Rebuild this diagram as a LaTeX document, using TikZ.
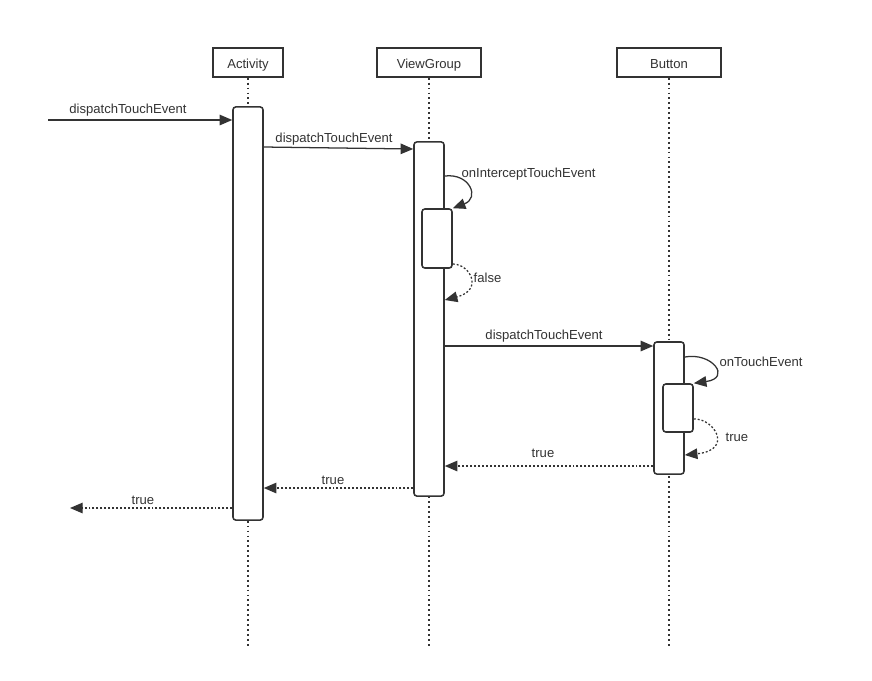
\documentclass[tikz,border=0pt]{standalone}
\usepackage{fontspec}
\setmainfont{Liberation Sans}
\usepackage{tikz}
\usetikzlibrary{arrows.meta, positioning, calc}
\usepackage{xcolor}
\definecolor{ink}{RGB}{51,51,51}

\begin{document}
\begin{tikzpicture}[x=0.025cm, y=-0.025cm, every node/.style={font=\fontsize{9.3}{11}\selectfont, text=ink},
  head/.style={draw=ink, line width=1.1pt, fill=white, minimum width=1.75cm, minimum height=0.725cm, inner sep=0pt, text height=1.9ex, text depth=0.25ex},
  lifeline/.style={draw=ink, line width=1.1pt, dash pattern=on 1.3pt off 2.2pt},
  actbox/.style={draw=ink, line width=1.1pt, fill=white, rounded corners=2pt, minimum width=0.75cm, inner sep=0pt},
  msg/.style={draw=ink, line width=0.9pt, -{Triangle[length=9pt, width=7.5pt]}},
  reply/.style={draw=ink, line width=0.9pt, dash pattern=on 1.4pt off 1.4pt, -{Triangle[length=9pt, width=7.5pt]}},
  lbl/.style={inner sep=1pt}]
  \useasboundingbox (0,0) rectangle (872,680);

  % participants
  \node[head] (activity) at (248,62.5) {Activity};
  \node[head, minimum width=2.6cm] (viewgroup) at (429,62.5) {ViewGroup};
  \node[head, minimum width=2.6cm] (button) at (669,62.5) {Button};

  % lifelines
  \coordinate (endA) at (248,648);
  \coordinate (endV) at (429,648);
  \coordinate (endB) at (669,648);
  \draw[lifeline] (activity.south) -- (endA);
  \draw[lifeline] (viewgroup.south) -- (endV);
  \draw[lifeline] (button.south) -- (endB);

  % activations
  \node[actbox, minimum height=10.325cm] (actA) at (248,313.5) {};
  \node[actbox, minimum height=8.85cm] (actV) at (429,319) {};
  \node[actbox, minimum height=1.475cm] (actVin) at (437,238.5) {};
  \node[actbox, minimum height=3.3cm] (actB) at (669,408) {};
  \node[actbox, minimum height=1.2cm] (actBin) at (678,408) {};

  % message rows
  \coordinate (start) at (48,120);
  \coordinate (m2) at (0,147);
  \coordinate (m2b) at (0,149);
  \coordinate (m3) at (0,346);
  \coordinate (r1) at (0,466);
  \coordinate (r2) at (0,488);
  \coordinate (r3) at (0,508);
  \coordinate (out) at (70,508);

  \draw[msg] (start) -- (actA.west |- start);
  \node[lbl] (l1) at (128,110) {dispatchTouchEvent};

  \draw[msg] (actA.east |- m2) -- (actV.west |- m2b);
  \node[lbl] (l2) at (334,139) {dispatchTouchEvent};

  \draw[msg] (actV.east |- 0,176) .. controls (470,173) and (480,198) .. (actVin.north east);
  \node[lbl, anchor=west] (l3) at (460,174) {onInterceptTouchEvent};

  \draw[reply] (actVin.east |- 0,264) .. controls (470,264) and (484,290) .. (actV.east |- 0,300);
  \node[lbl, anchor=west] (l4) at (472,278) {false};

  \draw[msg] (actV.east |- m3) -- (actB.west |- m3);
  \node[lbl] (l5) at (544,336) {dispatchTouchEvent};

  \draw[msg] (actB.east |- 0,357) .. controls (712,352) and (732,378) .. (actBin.north east);
  \node[lbl, anchor=west] (l6) at (718,362) {onTouchEvent};

  \draw[reply] (actBin.east |- 0,419) .. controls (714,418) and (734,450) .. (actB.east |- 0,455);
  \node[lbl, anchor=west] (l7) at (724,437) {true};

  \draw[reply] (actB.west |- r1) -- (actV.east |- r1);
  \node[lbl] (l8) at (543,453) {true};

  \draw[reply] (actV.west |- r2) -- (actA.east |- r2);
  \node[lbl] (l9) at (333,480) {true};

  \draw[reply] (actA.west |- r3) -- (out);
  \node[lbl] (l10) at (143,500) {true};
\end{tikzpicture}
\end{document}
